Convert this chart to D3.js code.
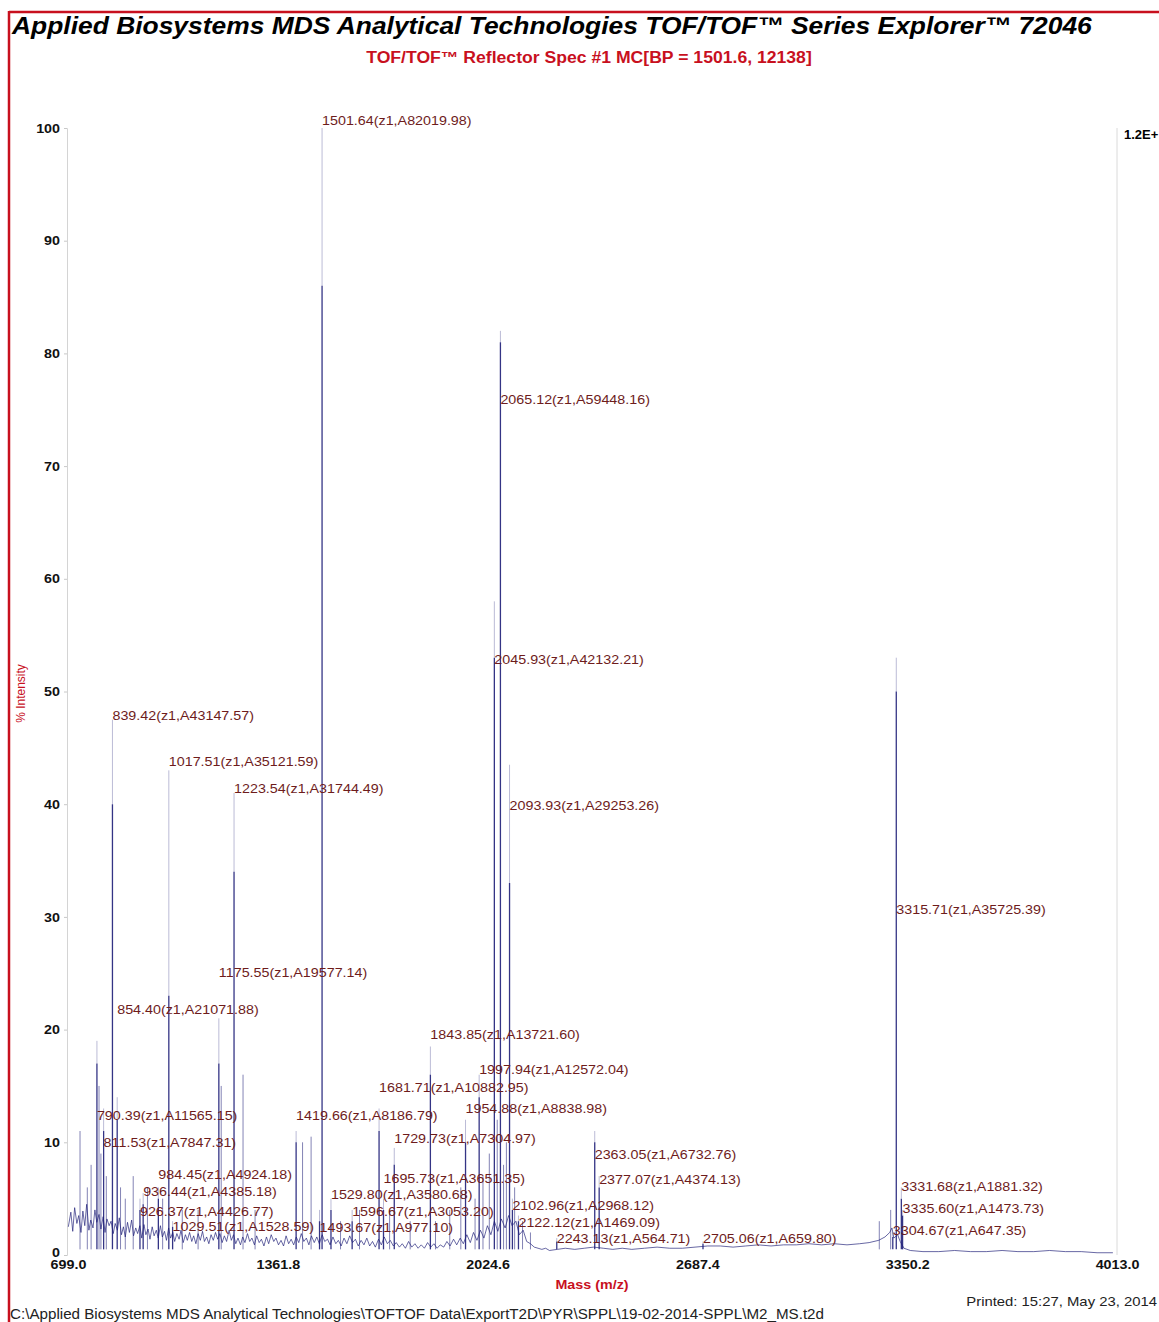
<!DOCTYPE html>
<html>
<head>
<meta charset="utf-8">
<script src="https://cdn.jsdelivr.net/npm/d3@7"></script>
<style>
  body { margin: 0; background: #fff; }
  svg { display: block; font-family: "Liberation Sans", Arial, sans-serif; }
</style>
</head>
<body>
<svg id="spec"></svg>
<script>
// labelled peaks: mass, apex %, solid core %, label level (% units)
var peakMz    = [790.39, 811.53, 839.42, 854.40, 926.37, 936.44, 984.45, 1017.51, 1029.51, 1175.55, 1223.54, 1419.66, 1493.67, 1501.64, 1529.80, 1596.67, 1681.71, 1695.73, 1729.73, 1843.85, 1954.88, 1997.94, 2045.93, 2065.12, 2093.93, 2102.96, 2122.12, 2243.13, 2363.05, 2377.07, 2705.06, 3304.67, 3315.71, 3331.68, 3335.60];
var peakArea  = ["11565.15", "7847.31", "43147.57", "21071.88", "4426.77", "4385.18", "4924.18", "35121.59", "1528.59", "19577.14", "31744.49", "8186.79", "977.10", "82019.98", "3580.68", "3053.20", "10882.95", "3651.35", "7304.97", "13721.60", "8838.98", "12572.04", "42132.21", "59448.16", "29253.26", "2968.12", "1469.09", "564.71", "6732.76", "4374.13", "659.80", "647.35", "35725.39", "1881.32", "1473.73"];
var peakPct   = [19, 13, 47.5, 14, 5, 5.5, 6, 43, 3, 21, 41, 11, 4, 100, 5, 4, 13, 5, 9.5, 18.5, 12, 16, 58, 82, 43.5, 5, 3.5, 1.5, 11, 7, 1.2, 2, 53, 6, 4];
var peakCore  = [17, 11, 40, 12, 4, 4.5, 5, 23, 2.5, 17, 34, 10, 3, 86, 4, 3, 11, 4, 8, 16, 10, 14, 53, 81, 33, 4, 3, 1.2, 10, 6, 1, 1.6, 50, 5, 3.5];
var labelAt   = [12.0, 9.6, 47.5, 21.4, 3.5, 5.2, 6.7, 43.4, 2.1, 24.7, 41.0, 12.0, 2.0, 100.3, 5.0, 3.5, 14.5, 6.4, 9.9, 19.2, 12.6, 16.1, 52.4, 75.5, 39.5, 4.0, 2.5, 1.1, 8.5, 6.3, 1.1, 1.8, 30.3, 5.7, 3.7];

// unlabelled minor peaks: mass, %
var minorMz  = [737, 760, 772, 797, 803, 820, 865, 880, 905, 950, 998, 1060, 1110, 1183, 1252, 1290, 1440, 1467, 1560, 1620, 1715, 1780, 1860, 1905, 1940, 1985, 2010, 2030, 2055, 2075, 2084, 2110, 2135, 2160, 3262, 3298];
var minorPct = [11, 6, 8, 15, 9, 7, 6, 5, 7, 6, 5, 4, 4, 15, 16, 4, 10, 10.5, 3, 4, 4, 3, 3, 4, 6, 5, 7, 9, 12, 8, 10, 6, 3, 2, 3, 4];

// baseline trace: mass, %
var traceMz  = [700, 708, 714, 720, 727, 733, 740, 746, 752, 758, 765, 771, 778, 784, 790, 797, 803, 810, 816, 822, 829, 835, 842, 848, 855, 861, 868, 874, 880, 887, 893, 900, 906, 913, 919, 926, 932, 939, 945, 952, 958, 965, 971, 978, 984, 991, 997, 1004, 1010, 1017, 1023, 1030, 1036, 1043, 1050, 1056, 1063, 1070, 1076, 1083, 1090, 1096, 1103, 1110, 1117, 1124, 1130, 1137, 1144, 1151, 1158, 1165, 1172, 1179, 1186, 1193, 1200, 1208, 1215, 1222, 1229, 1236, 1244, 1251, 1258, 1266, 1273, 1280, 1288, 1295, 1303, 1310, 1318, 1326, 1333, 1341, 1349, 1356, 1364, 1372, 1380, 1388, 1396, 1404, 1412, 1420, 1428, 1436, 1444, 1452, 1460, 1468, 1477, 1485, 1493, 1502, 1510, 1519, 1527, 1536, 1545, 1553, 1562, 1571, 1580, 1589, 1598, 1607, 1616, 1625, 1634, 1643, 1652, 1661, 1670, 1680, 1689, 1698, 1708, 1717, 1727, 1736, 1746, 1755, 1765, 1775, 1785, 1795, 1805, 1815, 1825, 1835, 1845, 1855, 1865, 1875, 1886, 1896, 1906, 1917, 1927, 1938, 1948, 1959, 1970, 1980, 1991, 2002, 2013, 2024, 2035, 2046, 2057, 2068, 2080, 2091, 2102, 2114, 2125, 2137, 2148, 2160, 2172, 2184, 2196, 2208, 2220, 2245, 2270, 2300, 2330, 2360, 2390, 2420, 2450, 2480, 2520, 2560, 2600, 2640, 2680, 2720, 2760, 2800, 2840, 2880, 2920, 2960, 3000, 3040, 3080, 3120, 3160, 3200, 3230, 3260, 3280, 3295, 3302, 3308, 3320, 3328, 3340, 3360, 3400, 3450, 3500, 3550, 3600, 3650, 3700, 3750, 3800, 3850, 3900, 3950, 4000];
var tracePct = [2.5, 3.8, 2.1, 4.2, 2.8, 3.5, 2.0, 3.9, 2.6, 4.5, 2.2, 3.1, 2.4, 4.0, 2.9, 3.6, 2.3, 3.4, 2.0, 3.2, 2.6, 3.0, 1.9, 2.8, 2.2, 3.3, 1.8, 2.5, 1.6, 2.9, 2.0, 3.1, 1.7, 2.4, 1.9, 2.6, 1.5, 2.7, 1.8, 2.3, 1.4, 2.5, 1.7, 2.2, 1.5, 2.6, 1.6, 2.1, 1.3, 2.4, 1.5, 2.0, 1.2, 1.9, 1.4, 2.2, 1.1, 1.8, 1.3, 2.0, 1.2, 1.7, 1.0, 1.9, 1.3, 2.1, 1.2, 1.6, 1.0, 1.8, 1.3, 2.0, 1.4, 1.9, 1.1, 1.7, 1.2, 2.2, 1.3, 1.8, 1.0, 1.5, 0.9, 1.6, 1.1, 1.9, 1.2, 1.5, 0.9, 1.7, 1.1, 1.4, 0.8, 1.6, 1.0, 1.8, 1.2, 1.5, 0.9, 1.3, 0.8, 1.7, 1.0, 1.4, 0.9, 1.6, 1.1, 1.9, 1.2, 1.5, 0.9, 1.7, 1.1, 1.6, 1.0, 1.8, 1.2, 1.4, 0.9, 1.6, 1.0, 1.3, 0.8, 1.5, 1.0, 1.7, 1.1, 1.4, 0.8, 1.3, 0.9, 1.5, 0.8, 1.2, 0.7, 1.4, 0.9, 1.6, 1.0, 1.3, 0.8, 1.1, 0.7, 1.0, 0.6, 1.2, 0.7, 1.0, 0.6, 0.9, 0.6, 1.1, 0.7, 1.0, 0.6, 0.9, 0.7, 1.2, 0.8, 1.4, 0.9, 1.5, 1.0, 1.8, 1.1, 2.0, 1.3, 2.2, 1.5, 2.6, 1.8, 3.0, 2.1, 3.2, 2.4, 3.5, 2.6, 3.0, 1.8, 2.2, 1.2, 1.0, 0.7, 0.6, 0.5, 0.6, 0.4, 0.5, 0.6, 0.5, 0.6, 0.7, 0.6, 0.5, 0.6, 0.5, 0.6, 0.7, 0.6, 0.6, 0.7, 0.8, 0.8, 0.7, 0.8, 0.9, 0.8, 0.9, 0.9, 1.0, 0.9, 1.0, 0.9, 1.0, 1.1, 1.3, 1.6, 2.0, 2.4, 1.5, 1.8, 1.2, 0.6, 0.4, 0.3, 0.3, 0.4, 0.3, 0.3, 0.4, 0.3, 0.3, 0.4, 0.3, 0.3, 0.2, 0.2];

var xTicks = [699.0, 1361.8, 2024.6, 2687.4, 3350.2, 4013.0];
var yTicks = [0, 10, 20, 30, 40, 50, 60, 70, 80, 90, 100];

var svg = d3.select("#spec");
var dims = { width: 1159, height: 1322, margin: { top: 128, bottom: 67, left: 68, right: 42 } };
svg.attr("width", dims.width).attr("height", dims.height);

var red = "#c8101e";
var navy = "#1e1e78";
var labelColor = "#6e1c1c";
var wide = 1.1; // the printout is a little stretched sideways

//widen texts to match the printout
function stretch(sel, k) {
    sel.each(function () {
        var len = this.getComputedTextLength();
        d3.select(this).attr("textLength", len * k).attr("lengthAdjust", "spacingAndGlyphs");
    });
}

//Scales
var xScale = d3.scaleLinear()
    .domain([699.0, 4013.0])
    .range([dims.margin.left, dims.width - dims.margin.right]);
var yScale = d3.scaleLinear()
    .domain([0, 100])
    .range([dims.height - dims.margin.bottom, dims.margin.top]);

//Frame (red border top and left)
svg.append("line").attr("x1", 9).attr("x2", dims.width).attr("y1", 12).attr("y2", 12)
    .attr("stroke", red).attr("stroke-width", 2.5);
svg.append("line").attr("x1", 9).attr("x2", 9).attr("y1", 11).attr("y2", dims.height)
    .attr("stroke", red).attr("stroke-width", 2.5);

//Titles
svg.append("text").attr("x", 12).attr("y", 34)
    .attr("font-size", 24).attr("font-weight", "bold").attr("font-style", "italic")
    .text("Applied Biosystems MDS Analytical Technologies TOF/TOF\u2122 Series Explorer\u2122 72046")
    .call(stretch, wide);
svg.append("text").attr("x", 589).attr("y", 63).attr("text-anchor", "middle")
    .attr("font-size", 16).attr("font-weight", "bold").attr("fill", red)
    .text("TOF/TOF\u2122 Reflector Spec #1 MC[BP = 1501.6, 12138]")
    .call(stretch, wide);

//Left axis
var yAxis = svg.append("g")
    .attr("transform", `translate(${dims.margin.left - 1},0)`)
    .call(d3.axisLeft(yScale).tickValues(yTicks).tickSize(3).tickPadding(4));
yAxis.select(".domain").attr("stroke", "#d4d4d4");
yAxis.selectAll(".tick line").attr("stroke", "#c8c8c8");
yAxis.selectAll(".tick text").attr("font-size", 13).attr("font-weight", "bold")
    .attr("font-family", "Liberation Sans, Arial, sans-serif").attr("fill", "#111")
    .call(stretch, wide);
yAxis.selectAll(".tick").filter(d => d === 0).select("text").attr("dy", "0.1em");

//right axis line
svg.append("line")
    .attr("x1", xScale(4013.0)).attr("x2", xScale(4013.0))
    .attr("y1", yScale(100)).attr("y2", yScale(0))
    .attr("stroke", "#dadada");
svg.append("text").attr("x", xScale(4013.0) + 7).attr("y", yScale(100) + 11)
    .attr("font-size", 13).attr("font-weight", "bold").text("1.2E+");

//Bottom axis
var xAxis = svg.append("g")
    .attr("transform", `translate(0,${yScale(0)})`)
    .call(d3.axisBottom(xScale).tickValues(xTicks).tickFormat(d3.format(".1f")).tickSize(0).tickPadding(5));
xAxis.select(".domain").remove();
xAxis.selectAll(".tick text").attr("font-size", 13).attr("font-weight", "bold")
    .attr("font-family", "Liberation Sans, Arial, sans-serif").attr("fill", "#111")
    .call(stretch, wide);

//Axis titles
svg.append("text").attr("x", 592).attr("y", 1289).attr("text-anchor", "middle")
    .attr("font-size", 13).attr("font-weight", "bold").attr("fill", red)
    .text("Mass (m/z)")
    .call(stretch, wide);
svg.append("text")
    .attr("transform", `translate(25,${yScale(50) + 2}) rotate(-90)`)
    .attr("text-anchor", "middle").attr("font-size", 12).attr("fill", red)
    .text("% Intensity");

//Baseline trace
var trace = traceMz.map((m, i) => ({ m: m, p: tracePct[i] }));
svg.append("path")
    .datum(trace)
    .attr("fill", "none")
    .attr("stroke", navy)
    .attr("stroke-opacity", 0.75)
    .attr("stroke-width", 0.9)
    .attr("d", d3.line().x(d => xScale(d.m)).y(d => yScale(d.p)));

//Minor peaks
var minors = minorMz.map((m, i) => ({ m: m, p: minorPct[i] }));
svg.append("g").selectAll("line").data(minors).enter().append("line")
    .attr("x1", d => xScale(d.m)).attr("x2", d => xScale(d.m))
    .attr("y1", yScale(0.5)).attr("y2", d => yScale(d.p))
    .attr("stroke", navy).attr("stroke-opacity", 0.55).attr("stroke-width", 1);

//Labelled peaks
var peaks = peakMz.map((m, i) => ({ m: m, p: peakPct[i], c: peakCore[i], l: labelAt[i], a: peakArea[i] }));
var pg = svg.append("g");
pg.selectAll(".tip").data(peaks).enter().append("line")
    .attr("class", "tip")
    .attr("x1", d => xScale(d.m)).attr("x2", d => xScale(d.m))
    .attr("y1", d => yScale(d.c)).attr("y2", d => yScale(d.p))
    .attr("stroke", navy).attr("stroke-opacity", 0.3).attr("stroke-width", 1);
pg.selectAll(".core").data(peaks).enter().append("line")
    .attr("class", "core")
    .attr("x1", d => xScale(d.m)).attr("x2", d => xScale(d.m))
    .attr("y1", yScale(0.5)).attr("y2", d => yScale(d.c))
    .attr("stroke", navy).attr("stroke-opacity", 0.9).attr("stroke-width", 1.3);

//Peak labels
svg.append("g").selectAll("text").data(peaks).enter().append("text")
    .attr("x", d => xScale(d.m))
    .attr("y", d => yScale(d.l))
    .attr("font-size", 13)
    .attr("fill", labelColor)
    .text(d => d3.format(".2f")(d.m) + "(z1,A" + d.a + ")")
    .call(stretch, wide);

//Footer
svg.append("text").attr("x", 1157).attr("y", 1306).attr("text-anchor", "end")
    .attr("font-size", 13.5).attr("fill", "#222")
    .text("Printed: 15:27, May 23, 2014")
    .call(stretch, wide);
svg.append("text").attr("x", 10).attr("y", 1319)
    .attr("font-size", 13.8).attr("fill", "#222")
    .text("C:\\Applied Biosystems MDS Analytical Technologies\\TOFTOF Data\\ExportT2D\\PYR\\SPPL\\19-02-2014-SPPL\\M2_MS.t2d")
    .call(stretch, wide);
</script>
</body>
</html>
